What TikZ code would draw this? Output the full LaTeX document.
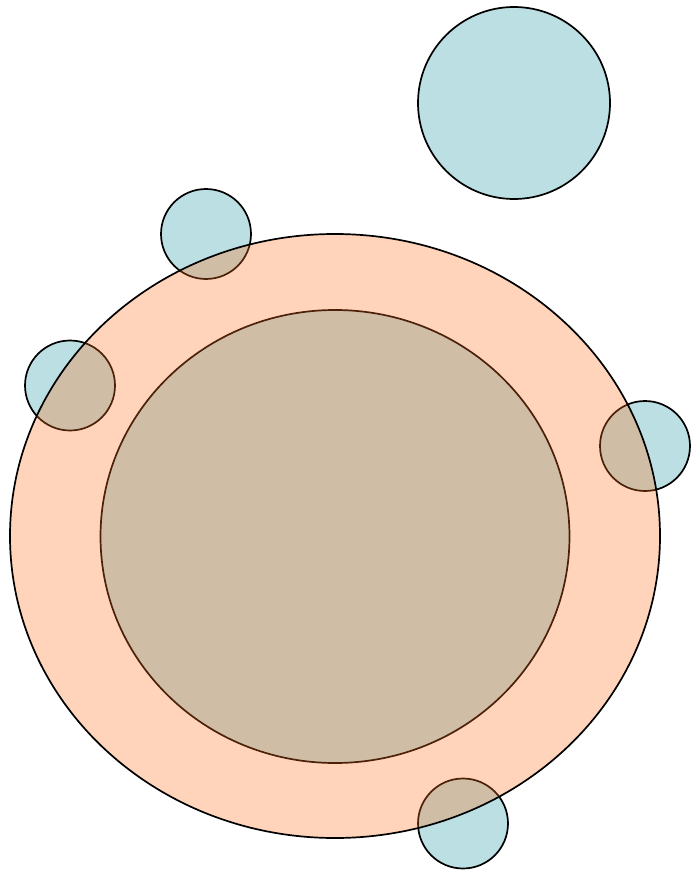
\documentclass[tikz,border=0pt]{standalone}
\usetikzlibrary{shapes.geometric}
\definecolor{cellblue}{RGB}{187,223,226}
\definecolor{cellpeach}{RGB}{255,112,30}
\begin{document}
\begin{tikzpicture}[x=1pt, y=-1pt, line width=1.7pt, every node/.style={draw, inner sep=0pt, fill=cellblue}]
        \useasboundingbox (0,0) rectangle (691,872);
        \node[ellipse, minimum width=469pt, minimum height=453pt] (core) at (335,536.5) {};
        \node[circle, minimum size=192pt] (far) at (514,103) {};
        \node[circle, minimum size=90pt] (b1) at (206,234) {};
        \node[circle, minimum size=90pt] (b2) at (70,385.5) {};
        \node[circle, minimum size=90pt] (b3) at (645,446) {};
        \node[circle, minimum size=90pt] (b4) at (463,823.5) {};

        \node[ellipse, fill=cellpeach, fill opacity=0.3, minimum width=650pt, minimum height=604pt] (cell) at (335,536) {};
    \end{tikzpicture}
\end{document}
